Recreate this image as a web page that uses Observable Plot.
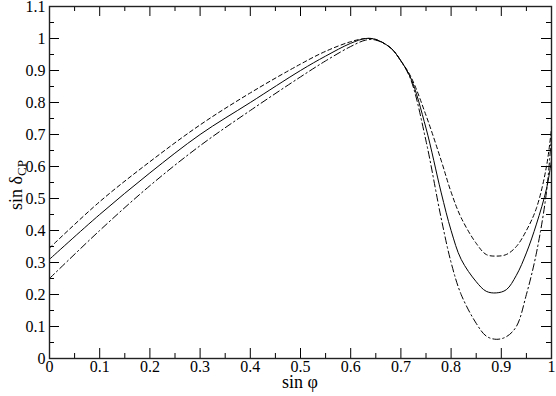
<!DOCTYPE html>
<html><head><meta charset="utf-8">
<script src="https://cdn.jsdelivr.net/npm/d3@7"></script>
<script src="https://cdn.jsdelivr.net/npm/@observablehq/plot@0.6"></script>
<style>body{margin:0;background:#fff;} svg{display:block;}</style>
</head><body><div id="chart"></div>
<script>
const xs = [0, 0.1, 0.2, 0.3, 0.4, 0.5, 0.55, 0.6, 0.63, 0.65, 0.68, 0.7, 0.72, 0.75, 0.78, 0.8, 0.82, 0.85, 0.87, 0.89, 0.91, 0.93, 0.95, 0.97, 0.99, 1.0];
const solid   = [0.31, 0.45, 0.58, 0.70, 0.80, 0.90, 0.945, 0.985, 1.0, 0.997, 0.97, 0.93, 0.875, 0.72, 0.52, 0.40, 0.31, 0.24, 0.21, 0.205, 0.215, 0.26, 0.33, 0.42, 0.53, 0.62];
const dashed  = [0.345, 0.49, 0.615, 0.73, 0.83, 0.92, 0.96, 0.99, 1.0, 0.997, 0.97, 0.93, 0.88, 0.76, 0.62, 0.52, 0.44, 0.36, 0.325, 0.32, 0.325, 0.35, 0.40, 0.47, 0.60, 0.72];
const dashdot = [0.25, 0.40, 0.54, 0.665, 0.775, 0.88, 0.93, 0.975, 0.995, 0.995, 0.97, 0.93, 0.87, 0.68, 0.44, 0.30, 0.20, 0.11, 0.07, 0.06, 0.068, 0.10, 0.20, 0.33, 0.52, 0.70];
const xMajor = [0, 0.1, 0.2, 0.3, 0.4, 0.5, 0.6, 0.7, 0.8, 0.9, 1];
const xMinor = [0.05, 0.15, 0.25, 0.35, 0.45, 0.55, 0.65, 0.75, 0.85, 0.95];
const yMajor = [0, 0.1, 0.2, 0.3, 0.4, 0.5, 0.6, 0.7, 0.8, 0.9, 1, 1.1];
const yMinor = [0.05, 0.15, 0.25, 0.35, 0.45, 0.55, 0.65, 0.75, 0.85, 0.95, 1.05];
const xLabel = "sin φ";
const yLabelMain = "sin δ";
const yLabelSub = "CP";

const W = 556, H = 396, mL = 49, mR = 5, mT = 6, mB = 38;
const FW = W - mL - mR, FH = H - mT - mB;
const toRows = ys => xs.map((x, i) => ({x, y: ys[i]}));
const font = "'Liberation Serif', 'Times New Roman', serif";

const plot = Plot.plot({
  width: W, height: H,
  marginLeft: mL, marginRight: mR, marginTop: mT, marginBottom: mB,
  x: {domain: [0, 1]},
  y: {domain: [0, 1.1]},
  style: {fontFamily: font, fontSize: "16px", color: "#000", background: "#fff"},
  marks: [
    Plot.line(toRows(dashed), {x: "x", y: "y", stroke: "#000", strokeWidth: 1, strokeDasharray: "4,3", curve: "catmull-rom"}),
    Plot.line(toRows(solid), {x: "x", y: "y", stroke: "#000", strokeWidth: 1, curve: "catmull-rom"}),
    Plot.line(toRows(dashdot), {x: "x", y: "y", stroke: "#000", strokeWidth: 1, strokeDasharray: "7,3,1.5,3", curve: "catmull-rom"}),
    Plot.tickX(xMajor, {x: d => d, insetTop: FH - 10, stroke: "#000"}),
    Plot.tickX(xMajor, {x: d => d, insetBottom: FH - 10, stroke: "#000"}),
    Plot.tickX(xMinor, {x: d => d, insetTop: FH - 5, stroke: "#000"}),
    Plot.tickX(xMinor, {x: d => d, insetBottom: FH - 5, stroke: "#000"}),
    Plot.tickY(yMajor, {y: d => d, insetRight: FW - 10, stroke: "#000"}),
    Plot.tickY(yMajor, {y: d => d, insetLeft: FW - 10, stroke: "#000"}),
    Plot.tickY(yMinor, {y: d => d, insetRight: FW - 5, stroke: "#000"}),
    Plot.tickY(yMinor, {y: d => d, insetLeft: FW - 5, stroke: "#000"}),
    Plot.axisX({ticks: xMajor, tickSize: 0, tickPadding: 2, tickFormat: d => String(d), label: null, fontSize: 16, fontFamily: font}),
    Plot.axisY({ticks: yMajor, tickSize: 0, tickPadding: 4, tickFormat: d => String(d), label: null, fontSize: 16, fontFamily: font}),
    Plot.frame({stroke: "#222", strokeWidth: 1.4})
  ]
});
document.getElementById("chart").appendChild(plot);

const svg = d3.select(plot);
svg.append("text")
  .attr("x", mL + FW / 2).attr("y", 388)
  .attr("text-anchor", "middle")
  .style("font-family", font).style("font-size", "18px")
  .text(xLabel);
const yl = svg.append("text")
  .attr("transform", `translate(22,${mT + FH / 2 + 3}) rotate(-90)`)
  .attr("text-anchor", "middle")
  .style("font-family", font).style("font-size", "18px");
yl.append("tspan").text(yLabelMain);
yl.append("tspan").attr("dy", 4).style("font-size", "13px").text(yLabelSub);
</script></body></html>
